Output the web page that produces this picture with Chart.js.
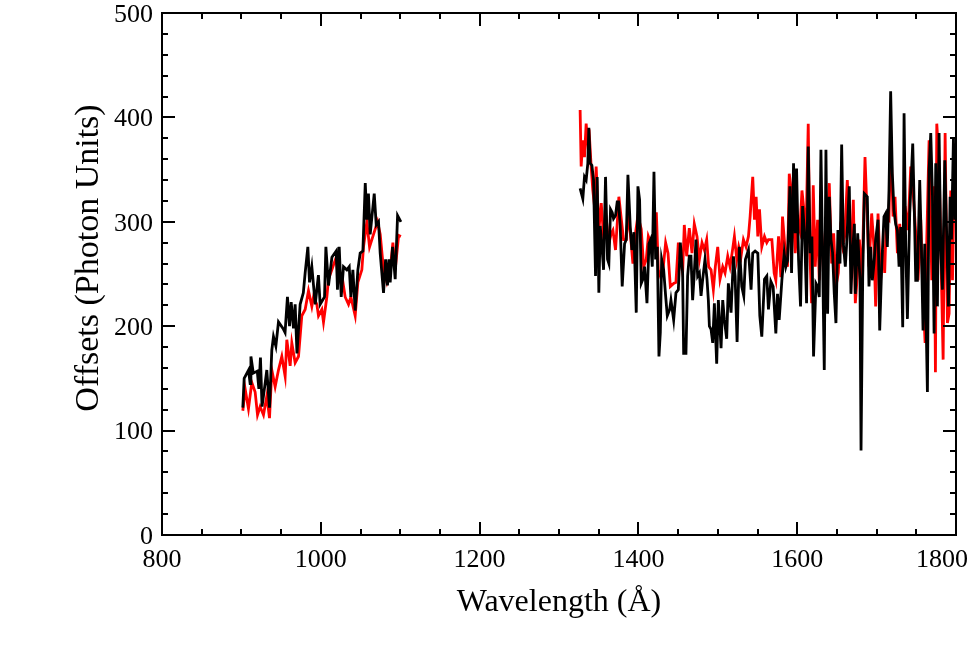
<!DOCTYPE html>
<html>
<head>
<meta charset="utf-8">
<script src="https://cdn.jsdelivr.net/npm/chart.js@4.4.1/dist/chart.umd.min.js"></script>
<style>
  html, body { margin: 0; padding: 0; background: #fff; }
  #chart { display: block; }
</style>
</head>
<body>
<canvas id="chart" width="969" height="645"></canvas>
<script>
// [wavelength (A), offset]
const blackShort = [
  [901.8,122],[903.5,150],[909,158],[911,145],[912,171],[915,155],[920,157],[922,140],[924,170],[926,123],
  [930,146],[932,158],[935.4,122],[938.3,177],[940.4,190],[943.4,181],[946.7,204],[953,197],[955,194],[958,228],
  [960.6,200],[962.7,223],[965.6,198],[967.7,221],[970,174],[974,221],[978,232],[980.3,251],[983.7,276],[985.8,242],
  [988.7,257],[993,221],[997,249],[999.2,221],[1004.7,228],[1006.4,276],[1009.7,239],[1014,266],[1019.4,272],[1021,235],
  [1023.2,276],[1025.7,228],[1028.6,257],[1032.8,254],[1035.8,257],[1037.9,228],[1040.4,254],[1043.3,215],[1046.7,254],[1049.6,270],
  [1053,272],[1056,337],[1058,302],[1060,327],[1062.2,288],[1067.3,327],[1069.8,297],[1072.7,300],[1074.8,270],[1079,232],
  [1081.6,264],[1084,239],[1085.8,264],[1087.4,242],[1090.4,276],[1093.7,245],[1096.7,306],[1100.9,300]
];

const redShort = [
  [901.8,119],[904.7,140],[908.9,121],[913.1,146],[917.3,137],[920.3,115],[923.6,123],[927.8,115],[932,133],[935.4,112],
  [938.3,158],[942.5,142],[946.7,158],[950.9,171],[955.1,152],[957.2,187],[961.4,162],[963.5,184],[967.7,165],[971.9,171],
  [976.1,210],[980.3,216],[984.5,234],[988.7,219],[990.8,228],[995,221],[997.1,210],[1001.3,216],[1003.4,204],[1007.6,228],
  [1009.7,245],[1013.9,254],[1019.4,266],[1022.3,242],[1026.5,249],[1030.7,228],[1034.9,221],[1037.9,228],[1043.3,210],[1046.7,242],
  [1051.7,254],[1053.8,276],[1058,300],[1061.4,276],[1066.4,288],[1071.5,300],[1074.8,288],[1079,254],[1083.2,242],[1087.4,254],
  [1090.8,280],[1093.7,254],[1098,287],[1100.9,286]
];

const blackLong = [
  [1326.6,332],[1330,322],[1332.1,343],[1334.2,340],[1336.3,356],[1337.6,390],[1339.3,356],[1341.4,354],[1343.5,340],[1344.7,296],
  [1346,248],[1348.1,343],[1350.2,232],[1351.9,296],[1354.4,273],[1356.1,254],[1358.6,343],[1361.1,264],[1362.8,260],[1364.9,312],
  [1367,309],[1368.7,303],[1371.2,306],[1373.3,319],[1375,319],[1377.1,296],[1379.6,238],[1382.6,279],[1384.7,283],[1386.8,345],
  [1389.7,296],[1391.8,273],[1394.4,290],[1397.3,213],[1399.4,334],[1401.5,321],[1403.6,241],[1405.7,245],[1407.8,257],[1410.8,222],
  [1413.3,279],[1415.4,283],[1417.5,257],[1419.6,348],[1421.7,264],[1423.8,276],[1425.9,171],[1427.6,194],[1429.3,264],[1431.8,254],
  [1434.3,229],[1436.4,210],[1439.4,216],[1441,225],[1444.4,206],[1447.3,232],[1450.3,235],[1452.8,280],[1455.7,251],[1457,174],
  [1459.9,174],[1462,248],[1464.1,267],[1466.2,267],[1468.3,225],[1470.4,251],[1472.5,283],[1474.6,248],[1476.8,251],[1478.9,229],
  [1481,245],[1483.9,264],[1486.4,245],[1488.1,225],[1489.4,200],[1491.5,197],[1493.6,184],[1495.7,222],[1498.6,164],[1500.7,225],
  [1504.1,179],[1506.2,225],[1508.3,206],[1511.2,188],[1513.3,241],[1516.7,213],[1519.7,267],[1521.8,248],[1524.3,185],[1527.2,276],
  [1530.2,238],[1532.7,229],[1534.8,264],[1538.6,273],[1541.9,235],[1544,270],[1547,272],[1550.4,270],[1552.9,210],[1555.4,190],
  [1558.8,245],[1561.7,248],[1563.8,216],[1566.8,243],[1569.7,238],[1573.1,193],[1575.2,231],[1577.3,206],[1580.7,244],[1583.6,270],
  [1585.7,257],[1587.8,263],[1590.8,334],[1592.9,251],[1595.4,356],[1597.5,289],[1599.2,351],[1601.7,264],[1604.2,219],[1606.8,315],
  [1609.3,289],[1611.8,222],[1613.9,372],[1616.4,270],[1618.5,286],[1620.6,171],[1623.6,241],[1625.7,238],[1627.8,228],[1629.9,369],
  [1632,264],[1634.1,158],[1636.2,369],[1638.3,212],[1640.4,324],[1642.5,283],[1644.6,270],[1646.7,231],[1648.8,203],[1651.3,292],
  [1653.9,260],[1656,374],[1658.1,279],[1660.6,257],[1662.3,279],[1665.6,334],[1667.7,231],[1669.9,273],[1672,298],[1673.2,231],
  [1676.2,289],[1679.1,244],[1680.4,81],[1682.5,247],[1684.6,327],[1688.3,324],[1690.4,238],[1692.5,276],[1694.6,244],[1696.7,260],
  [1698.8,283],[1701.8,302],[1703.9,196],[1706.4,257],[1709.3,305],[1711.4,308],[1713.5,276],[1715.6,330],[1717.7,425],[1719.8,346],
  [1721.9,311],[1724,298],[1726.2,292],[1728.3,257],[1730.4,295],[1732.9,199],[1734.6,404],[1736.7,276],[1738.8,207],[1741.7,308],
  [1745.5,375],[1747.6,308],[1749.3,244],[1751.4,244],[1754.3,340],[1756.4,276],[1758.5,196],[1760.6,279],[1764,137],[1766.1,349],
  [1768.2,385],[1770.3,327],[1772.4,193],[1774.5,356],[1776.6,219],[1778.7,385],[1780.8,273],[1782.9,235],[1785.9,359],[1788,295],
  [1790.5,219],[1792.6,324],[1794.3,283],[1796.8,381],[1798.5,302],[1800.6,340],[1802.7,276]
];

const redLong = [
  [1326.6,407],[1327.9,353],[1330,378],[1332.1,362],[1334.2,394],[1336.3,375],[1338.4,381],[1340.5,353],[1342.6,330],[1344.7,315],
  [1346.8,353],[1350.2,292],[1353.2,318],[1356.1,286],[1359.5,303],[1362.8,279],[1365.8,289],[1367.9,292],[1371.2,273],[1375.4,324],
  [1378.4,303],[1381.3,283],[1384.7,283],[1386.8,306],[1389.7,290],[1393.1,260],[1396.5,290],[1399.4,306],[1403.6,293],[1406.6,257],
  [1409.9,264],[1412.5,286],[1415.4,280],[1417.5,273],[1422.6,309],[1425.1,254],[1427.6,248],[1431,254],[1434.3,280],[1437.3,270],
  [1440.2,238],[1444.4,241],[1447.3,242],[1450.3,280],[1452.8,264],[1455.7,251],[1457.8,297],[1460.8,267],[1464.1,294],[1467.5,270],
  [1470.4,298],[1473.8,286],[1476.8,264],[1480.1,280],[1483.1,273],[1486,283],[1488.5,257],[1491.5,254],[1494.4,235],[1496.9,257],
  [1499.9,276],[1502.8,245],[1506.2,257],[1509.1,251],[1512.5,267],[1515.4,257],[1518,270],[1520.9,286],[1523.9,264],[1526.4,276],
  [1529.3,267],[1532.3,283],[1535.6,276],[1538.6,286],[1540.7,305],[1544,343],[1546.2,302],[1548.3,324],[1550.4,286],[1552.5,312],
  [1555.4,276],[1558.8,286],[1561.7,280],[1563.8,283],[1568.1,283],[1571,251],[1573.1,244],[1576.5,286],[1579.4,247],[1581.5,305],
  [1584.5,276],[1587.8,257],[1590,346],[1592,334],[1595,308],[1597.5,270],[1600.5,302],[1603.4,292],[1606,330],[1608,315],
  [1611,283],[1613.9,394],[1616,270],[1618.1,222],[1620.2,335],[1622.7,257],[1625.7,302],[1627.8,244],[1630.7,292],[1633.3,264],
  [1636.2,244],[1640.4,337],[1643.4,260],[1645.9,289],[1648.8,238],[1651.8,251],[1654.3,289],[1657.2,276],[1659.8,286],[1663.1,340],
  [1665.6,298],[1668.2,273],[1670.7,321],[1673.2,222],[1675.3,244],[1678.3,283],[1681.6,244],[1685.4,362],[1690.4,257],[1693.8,308],
  [1696.7,276],[1698.8,219],[1701.8,308],[1705.1,244],[1708.1,273],[1710.2,251],[1712.3,305],[1715.6,302],[1717.7,388],[1720.7,305],
  [1723.2,324],[1726.2,270],[1729.1,298],[1732.5,263],[1735.8,315],[1739.6,292],[1743,353],[1745.9,330],[1749.3,289],[1752.2,244],
  [1755.6,302],[1758.5,228],[1761.1,184],[1763.2,283],[1766.1,378],[1769.5,244],[1772.4,334],[1774.1,156],[1775.8,394],[1778.7,356],
  [1781.7,244],[1783.8,168],[1786.3,385],[1789.2,203],[1791.3,212],[1793.4,330],[1795.6,244],[1798.5,375],[1800.6,362]
];

const xTicks = [800, 1000, 1200, 1400, 1600, 1800];
const yTicks = [0, 100, 200, 300, 400, 500];

const FONT = 'Liberation Serif';

function toPoints(a, b) {
  // null point between the two wavelength windows breaks the line
  return a.map(p => ({ x: p[0], y: p[1] }))
    .concat([{ x: 1200, y: null }])
    .concat(b.map(p => ({ x: p[0], y: p[1] })));
}

// frame with inward ticks on all four sides, x labels, axis titles
const framePlugin = {
  id: 'frame',
  afterDraw(chart) {
    const ctx = chart.ctx;
    const a = chart.chartArea;
    const xs = chart.scales.x, ys = chart.scales.y;
    ctx.save();
    ctx.strokeStyle = '#000';
    ctx.lineWidth = 2;
    ctx.strokeRect(a.left, a.top, a.right - a.left, a.bottom - a.top);

    ctx.beginPath();
    for (let v = xs.min; v <= xs.max; v += 50) {
      const px = Math.round(xs.getPixelForValue(v));
      const len = (v % 200 === 0) ? 13 : 6;
      ctx.moveTo(px, a.bottom); ctx.lineTo(px, a.bottom - len);
      ctx.moveTo(px, a.top); ctx.lineTo(px, a.top + len);
    }
    for (let v = ys.min; v <= ys.max; v += 20) {
      const py = Math.round(ys.getPixelForValue(v));
      const len = (v % 100 === 0) ? 13 : 6;
      ctx.moveTo(a.left, py); ctx.lineTo(a.left + len, py);
      ctx.moveTo(a.right, py); ctx.lineTo(a.right - len, py);
    }
    ctx.stroke();

    ctx.fillStyle = '#000';
    ctx.textBaseline = 'middle';
    ctx.font = '26px "' + FONT + '"';
    xTicks.forEach(v => {
      const label = String(v);
      const w = ctx.measureText(label).width;
      let cx = xs.getPixelForValue(v);
      // keep the last label inside the canvas
      cx = Math.min(cx, chart.width - 1 - w / 2);
      ctx.textAlign = 'center';
      ctx.fillText(label, cx, 560);
    });

    ctx.textAlign = 'center';
    ctx.textBaseline = 'alphabetic';
    ctx.font = '32px "' + FONT + '"';
    ctx.fillText('Wavelength (Å)', (a.left + a.right) / 2, 611);

    ctx.font = '34px "' + FONT + '"';
    ctx.translate(98, 258);
    ctx.rotate(-Math.PI / 2);
    ctx.fillText('Offsets (Photon Units)', 0, 0);
    ctx.restore();
  }
};

new Chart(document.getElementById('chart'), {
  type: 'line',
  data: {
    datasets: [
      {
        label: 'black',
        data: toPoints(blackShort, blackLong),
        borderColor: '#000',
        borderWidth: 2.8,
        pointRadius: 0,
        tension: 0,
        spanGaps: false
      },
      {
        label: 'red',
        data: toPoints(redShort, redLong),
        borderColor: '#ff0000',
        borderWidth: 2.8,
        pointRadius: 0,
        tension: 0,
        spanGaps: false
      }
    ]
  },
  options: {
    responsive: false,
    animation: false,
    devicePixelRatio: 1,
    layout: { padding: { top: 13, right: 13, left: 0, bottom: 0 } },
    plugins: {
      legend: { display: false },
      tooltip: { enabled: false }
    },
    scales: {
      x: {
        type: 'linear',
        min: 800,
        max: 1800,
        afterBuildTicks: s => { s.ticks = xTicks.map(v => ({ value: v })); },
        afterFit: s => { s.height = 110; s.paddingLeft = 0; s.paddingRight = 0; },
        grid: { display: false, drawTicks: false },
        border: { display: false },
        ticks: { display: false }
      },
      y: {
        min: 0,
        max: 500,
        afterBuildTicks: s => { s.ticks = yTicks.map(v => ({ value: v })); },
        afterFit: s => { s.width = 162; s.paddingTop = 0; s.paddingBottom = 0; },
        grid: { display: false, drawTicks: false },
        border: { display: false },
        ticks: {
          padding: 9,
          labelOffset: 2,
          color: '#000',
          font: { family: FONT, size: 26 },
          callback: v => String(v)
        }
      }
    }
  },
  plugins: [framePlugin]
});
</script>
</body>
</html>
